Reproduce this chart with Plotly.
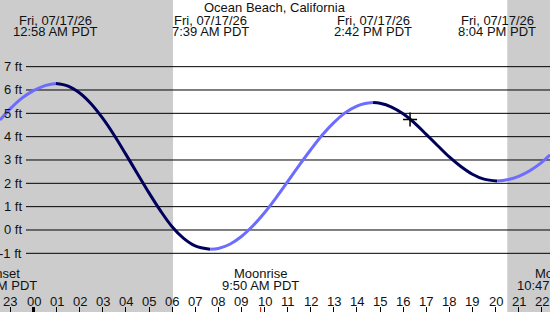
import plotly.graph_objects as go

# ---- data (hours from local midnight, feet) ----
hours = [-1.45, -1.0, -0.5, 0.0, 0.5, 0.967,
         1.5, 2.0, 2.5, 3.0, 3.5, 4.0, 4.5, 5.0, 5.5, 6.0, 6.5, 7.0, 7.65,
         8.0, 8.5, 9.0, 9.5, 10.0, 10.5, 11.0, 11.5, 12.0, 12.5, 13.0, 13.5, 14.0, 14.35, 14.7,
         15.0, 15.5, 16.0, 16.5, 17.0, 17.5, 18.0, 18.5, 19.0, 19.5, 20.067,
         20.5, 21.0, 21.5, 22.0, 22.36]
heights = [4.71, 5.20, 5.65, 5.97, 6.19, 6.28,
           6.17, 5.87, 5.40, 4.78, 4.05, 3.24, 2.41, 1.59, 0.82, 0.14, -0.36, -0.68, -0.83,
           -0.79, -0.61, -0.28, 0.18, 0.74, 1.38, 2.07, 2.77, 3.44, 4.07, 4.60, 5.03, 5.31, 5.42, 5.46,
           5.43, 5.27, 4.98, 4.58, 4.10, 3.61, 3.13, 2.72, 2.39, 2.18, 2.10,
           2.15, 2.30, 2.55, 2.90, 3.22]

extreme_times = [0.967, 7.65, 14.7, 20.067]
extreme_date = "Fri, 07/17/26"
extreme_labels = ["12:58 AM PDT", "7:39 AM PDT", "2:42 PM PDT", "8:04 PM PDT"]

moon_times = [-1.667, 9.833, 22.783]
moon_names = ["Moonset", "Moonrise", "Moonset"]
moon_labels = ["10:20 PM PDT", "9:50 AM PDT", "10:47 PM PDT"]

sunrise = 6.04
sunset = 20.51

grid_ft = [-1, 0, 1, 2, 3, 4, 5, 6, 7]
tick_hours = list(range(-1, 23))
tick_labels = ["23"] + ["%02d" % h for h in range(0, 23)]

now_time = 16.3
now_height = 4.74

title = "Ocean Beach, California"

# ---- layout constants ----
W, H = 550, 312
XR = [-1.4502, 22.359]
YR = [-3.515, 9.857]
RISE = "#6c6cff"
FALL = "#00005c"
FONT = dict(family="Liberation Sans, Arial, sans-serif", size=13, color="#111111")


def py(p):
    return 1 - p / H


def xp(t):
    return (t - XR[0]) / (XR[1] - XR[0])


fig = go.Figure()

# split curve into rising / falling segments
seg_x, seg_y = [hours[0]], [heights[0]]
cur_dir = heights[1] > heights[0]
for i in range(1, len(hours)):
    d = heights[i] > heights[i - 1] if heights[i] != heights[i - 1] else cur_dir
    if d != cur_dir:
        fig.add_trace(go.Scatter(x=seg_x, y=seg_y, mode="lines",
                                 line=dict(color=RISE if cur_dir else FALL, width=3, shape="spline"),
                                 hoverinfo="skip", showlegend=False))
        seg_x, seg_y = [hours[i - 1]], [heights[i - 1]]
        cur_dir = d
    seg_x.append(hours[i])
    seg_y.append(heights[i])
fig.add_trace(go.Scatter(x=seg_x, y=seg_y, mode="lines",
                         line=dict(color=RISE if cur_dir else FALL, width=3, shape="spline"),
                         hoverinfo="skip", showlegend=False))

fig.add_trace(go.Scatter(x=[now_time], y=[now_height], mode="markers",
                         marker=dict(symbol="cross-thin", size=10, line=dict(color="black", width=1.5)),
                         hoverinfo="skip", showlegend=False))

shapes = []
# night shading
shapes.append(dict(type="rect", xref="x", yref="paper", x0=XR[0] - 1, x1=sunrise, y0=0, y1=1,
                   fillcolor="#cccccc", line=dict(width=0), layer="below"))
shapes.append(dict(type="rect", xref="x", yref="paper", x0=sunset, x1=XR[1] + 1, y0=0, y1=1,
                   fillcolor="#cccccc", line=dict(width=0), layer="below"))
# gridlines
for v in grid_ft:
    shapes.append(dict(type="line", xref="paper", yref="y", x0=26 / W, x1=1, y0=v, y1=v,
                       line=dict(color="black", width=1), layer="below"))
# midnight thick tick
shapes.append(dict(type="line", xref="x", yref="paper", x0=0, x1=0, y0=0, y1=5 / H,
                   line=dict(color="black", width=3)))
# moon event ticks
for t in moon_times:
    shapes.append(dict(type="line", xref="x", yref="paper", x0=t, x1=t, y0=0, y1=5 / H,
                       line=dict(color="#cc0000", width=1)))

ann = []
ann.append(dict(text=title, xref="paper", yref="paper", x=0.5, y=py(7.5), showarrow=False,
                xanchor="center", yanchor="middle", font=FONT))
for t, lab in zip(extreme_times, extreme_labels):
    ann.append(dict(text=extreme_date, xref="paper", yref="paper", x=xp(t), y=py(20.5), showarrow=False,
                    xanchor="center", yanchor="middle", font=FONT))
    ann.append(dict(text=lab, xref="paper", yref="paper", x=xp(t), y=py(32), showarrow=False,
                    xanchor="center", yanchor="middle", font=FONT))
for t, nm, lab in zip(moon_times, moon_names, moon_labels):
    ann.append(dict(text=nm, xref="paper", yref="paper", x=xp(t), y=py(273.5), showarrow=False,
                    xanchor="center", yanchor="middle", font=FONT))
    ann.append(dict(text=lab, xref="paper", yref="paper", x=xp(t), y=py(285.5), showarrow=False,
                    xanchor="center", yanchor="middle", font=FONT))
for t, lab in zip(tick_hours, tick_labels):
    ann.append(dict(text=lab, xref="paper", yref="paper", x=xp(t), y=py(301), showarrow=False,
                    xanchor="center", yanchor="middle", font=FONT))
for v in grid_ft:
    ann.append(dict(text="%d ft" % v, xref="paper", yref="y", x=24 / W, y=v, showarrow=False,
                    xanchor="right", yanchor="middle", font=FONT))

fig.update_layout(
    width=W, height=H, margin=dict(l=0, r=0, t=0, b=0),
    paper_bgcolor="white", plot_bgcolor="white",
    shapes=shapes, annotations=ann, showlegend=False,
    xaxis=dict(range=XR, showgrid=False, zeroline=False, showline=False,
               ticks="inside", ticklen=5, tickwidth=1, tickcolor="black",
               tickvals=tick_hours, showticklabels=False, fixedrange=True),
    yaxis=dict(range=YR, visible=False, fixedrange=True),
)

fig.write_html("out.html")
